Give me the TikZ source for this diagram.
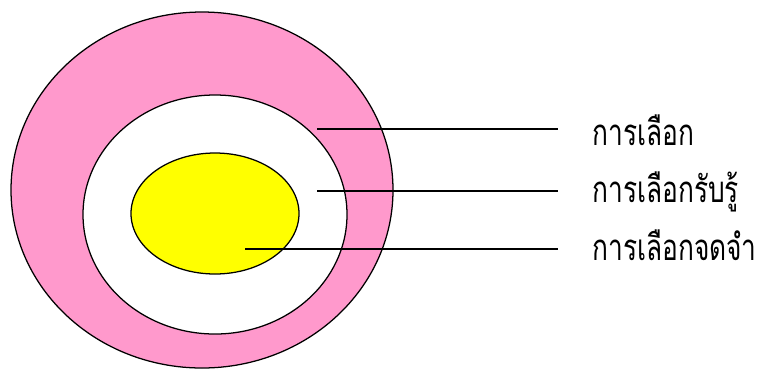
\documentclass[tikz,border=0pt]{standalone}
\usepackage{fontspec}
\newfontfamily\thaifont[Script=Thai, FakeStretch=0.72]{Loma}
\usetikzlibrary{shapes.geometric}
\definecolor{ringpink}{RGB}{255,153,204}
\definecolor{eggyellow}{RGB}{255,255,0}

\begin{document}
\begin{tikzpicture}[
    ring/.style={draw, ellipse, line width=0.9pt, inner sep=0pt},
    pointer/.style={line width=0.9pt, shorten >=0.85cm},
    caption/.style={anchor=base west, inner sep=0pt, font=\thaifont\fontsize{26}{30}\selectfont}
]
\useasboundingbox (0,0) rectangle (18.975,-9.225);

% Three nested ellipses
\node[ring, fill=ringpink, minimum width=9.55cm, minimum height=8.9cm] (outer) at (5.05,-4.75) {};
\node[ring, fill=white, minimum width=6.6cm, minimum height=5.975cm] (middle) at (5.375,-5.3625) {};
\node[ring, fill=eggyellow, minimum width=4.2cm, minimum height=3.025cm] (inner) at (5.375,-5.3375) {};

% Labels on the right
\node[caption] (choose) at (14.8,-3.625) {การเลือก};
\node[caption] (perceive) at (14.8,-5.05) {การเลือกรับรู้};
\node[caption] (remember) at (14.8,-6.5) {การเลือกจดจำ};

% Start points of the lines
\coordinate (p1) at (7.925,-3.225);
\coordinate (p2) at (7.925,-4.775);
\coordinate (p3) at (6.125,-6.225);

% Pointer lines
\draw[pointer] (p1) -- (p1 -| choose.west);
\draw[pointer] (p2) -- (p2 -| perceive.west);
\draw[pointer] (p3) -- (p3 -| remember.west);
\end{tikzpicture}
\end{document}
